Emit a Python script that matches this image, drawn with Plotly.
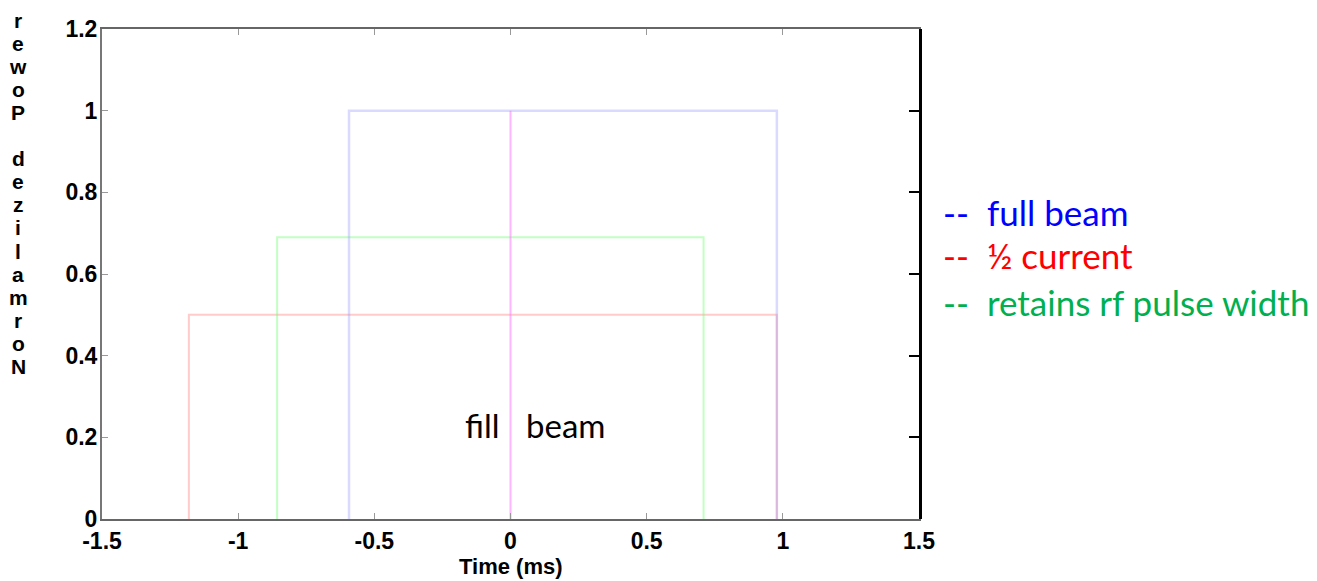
import plotly.graph_objects as go

# data (Time in ms, normalized power)
full_beam_x = [-0.593, -0.593, 0.978, 0.978]
full_beam_y = [0, 1.0, 1.0, 0]
half_current_x = [-1.181, -1.181, 0.978, 0.978]
half_current_y = [0, 0.5, 0.5, 0]
retains_x = [-0.857, -0.857, 0.709, 0.709]
retains_y = [0, 0.69, 0.69, 0]
beam_start_x = [0, 0]
beam_start_y = [0, 1.0]

x_ticks = [-1.5, -1, -0.5, 0, 0.5, 1, 1.5]
x_tick_text = ["-1.5", "-1", "-0.5", "0", "0.5", "1", "1.5"]
y_ticks = [0, 0.2, 0.4, 0.6, 0.8, 1.0, 1.2]
y_tick_text = ["0", "0.2", "0.4", "0.6", "0.8", "1", "1.2"]

legend_labels = ["--\u00a0 full beam", "--\u00a0 \u00bd current", "--\u00a0 retains rf pulse width"]
legend_colors = ["#0000FF", "#FF0000", "#00B050"]
legend_y = [0.752, 0.647, 0.531]

x_title = "Time (ms)"
y_title = "Normalized Power"

W, H = 1317, 581
L, T = 102, 29
PW, PH = 817, 490

fig = go.Figure()
fig.add_trace(go.Scatter(x=half_current_x, y=half_current_y, mode="lines",
                         line=dict(color="rgba(255,140,140,0.45)", width=2), hoverinfo="skip"))
fig.add_trace(go.Scatter(x=retains_x, y=retains_y, mode="lines",
                         line=dict(color="rgba(120,255,120,0.45)", width=2), hoverinfo="skip"))
fig.add_trace(go.Scatter(x=full_beam_x, y=full_beam_y, mode="lines",
                         line=dict(color="rgba(150,150,255,0.35)", width=2.5), hoverinfo="skip"))
fig.add_trace(go.Scatter(x=beam_start_x, y=beam_start_y, mode="lines",
                         line=dict(color="rgba(255,120,255,0.55)", width=2), hoverinfo="skip"))

# right axis drawn as a second (overlaying) y axis in black
fig.add_trace(go.Scatter(x=[None], y=[None], yaxis="y2", showlegend=False, hoverinfo="skip"))

boldfont = dict(family="Liberation Sans, Arial", size=23, color="black", weight="bold")

fig.update_layout(
    width=W, height=H,
    margin=dict(l=L, r=W - L - PW, t=T, b=H - T - PH, autoexpand=False),
    paper_bgcolor="white", plot_bgcolor="white",
    showlegend=False,
    xaxis=dict(range=[-1.5, 1.5], tickvals=x_ticks, ticktext=x_tick_text,
               ticks="inside", ticklen=6, tickcolor="#999", tickwidth=1,
               showline=True, linecolor="#666", linewidth=2, mirror="ticks",
               showgrid=False, zeroline=False, tickfont=boldfont, automargin=False,
               ticklabelstandoff=0),
    yaxis=dict(range=[0, 1.2], tickvals=y_ticks, ticktext=y_tick_text,
               ticks="inside", ticklen=6, tickcolor="#999", tickwidth=1,
               showline=True, linecolor="#777", linewidth=2, mirror=True, automargin=False,
               showgrid=False, zeroline=False, tickfont=boldfont, ticklabelstandoff=-2),
    yaxis2=dict(range=[0, 1.2], tickvals=y_ticks, overlaying="y", side="right",
                ticks="inside", ticklen=10, tickcolor="black", tickwidth=1.5,
                showline=True, linecolor="black", linewidth=2.5, automargin=False,
                showticklabels=False, showgrid=False, zeroline=False),
)

# x-axis title
fig.add_annotation(text=x_title, xref="paper", yref="paper", x=0.5, y=0,
                   xanchor="center", yanchor="middle", yshift=-47, showarrow=False,
                   font=dict(family="Liberation Sans, Arial", size=22, color="black",
                             weight="bold"))

# stacked y-axis title letters (reads bottom-to-top), one per row
letters = list(y_title)[::-1]
top_center = 20
step = 23.1
for i, ch in enumerate(letters):
    if ch == " ":
        continue
    fig.add_annotation(text=ch, xref="paper", yref="paper", x=0, y=1,
                       xanchor="center", yanchor="middle",
                       xshift=-84, yshift=T - top_center - i * step, showarrow=False,
                       font=dict(family="Liberation Sans, Arial", size=21, color="black",
                                 weight="bold"))

# fill / beam labels
fig.add_annotation(text="fill", x=0, y=0.23, xref="x", yref="y", xanchor="right",
                   xshift=-10, showarrow=False,
                   font=dict(family="Lato", size=33, color="black"))
fig.add_annotation(text="beam", x=0, y=0.23, xref="x", yref="y", xanchor="left",
                   xshift=13, showarrow=False,
                   font=dict(family="Lato", size=33, color="black"))

for lab, col, yy in zip(legend_labels, legend_colors, legend_y):
    fig.add_annotation(text=lab, xref="paper", yref="y", x=1, y=yy, xanchor="left",
                       xshift=22, showarrow=False,
                       font=dict(family="Lato", size=35, color=col))

fig.write_html("out.html", config={"displayModeBar": False},
               post_script="document.body.style.margin='0';document.body.style.overflow='hidden';")
